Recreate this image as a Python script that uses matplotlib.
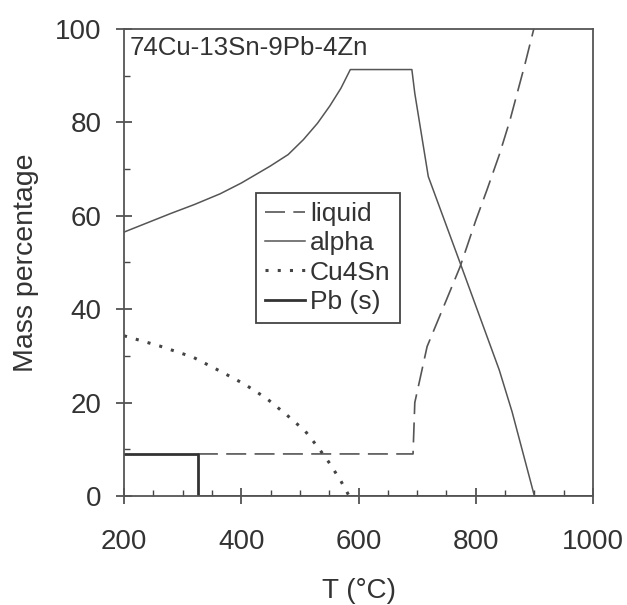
import matplotlib
matplotlib.use("Agg")
import matplotlib.pyplot as plt
from matplotlib.ticker import MultipleLocator

plt.rcParams['font.family'] = ['Liberation Sans', 'DejaVu Sans']

# Data
liquid_T = [326, 693, 696, 717, 750, 773, 785, 800, 819, 840, 858, 884, 899]
liquid_v = [9, 9, 20, 32, 42, 49, 53.4, 59, 65.5, 73, 80.3, 92.5, 100]

alpha_T = [200, 240, 280, 320, 364, 400, 449, 480, 506, 530, 551, 570, 586, 691, 696, 719, 773, 840, 862, 900, 1000]
alpha_v = [56.5, 58.5, 60.5, 62.4, 64.7, 67.0, 70.6, 73.1, 76.3, 79.8, 83.5, 87.3, 91.3, 91.3, 86.2, 68.4, 50, 27, 18, 0, 0]

cu4sn_T = [200, 261, 318, 369, 406, 443, 478, 509, 531, 549, 569, 584]
cu4sn_v = [34.3, 32.1, 29.7, 26.4, 23.9, 20.9, 17.3, 13.9, 10.4, 7.3, 3.4, 0]

pb_T = [200, 326, 326, 1000]
pb_v = [9, 9, 0, 0]

x_ticks = [200, 400, 600, 800, 1000]
y_ticks = [0, 20, 40, 60, 80, 100]

fig = plt.figure(figsize=(6.27, 6.05), dpi=100)
ax = fig.add_axes([0.1978, 0.1802, 0.748, 0.772])

lc = '#555555'
ax.plot(liquid_T, liquid_v, color=lc, lw=1.2, dashes=(12, 5), label='liquid')
ax.plot(alpha_T, alpha_v, color=lc, lw=1.1, label='alpha')
ax.plot(cu4sn_T, cu4sn_v, color='#444444', lw=2.2, linestyle=(0, (1, 3.0)), label='Cu4Sn')
ax.plot(pb_T, pb_v, color='#333333', lw=2.0, label='Pb (s)')

ax.set_xlim(200, 1000)
ax.set_ylim(0, 100)
ax.set_xticks(x_ticks)
ax.set_yticks(y_ticks)
ax.xaxis.set_minor_locator(MultipleLocator(50))
ax.yaxis.set_minor_locator(MultipleLocator(10))
ax.tick_params(which='major', direction='inout', length=12, width=1.2, color='#444444',
               labelsize=20, labelcolor='#333333', pad=10)
ax.tick_params(axis='x', which='major', pad=18)
ax.tick_params(which='minor', direction='in', length=4.5, width=1.0, color='#444444')
for s in ax.spines.values():
    s.set_color('#555555')
    s.set_linewidth(1.3)

ax.set_xlabel('T (°C)', fontsize=20, color='#333333', labelpad=16)
ax.set_ylabel('Mass percentage', fontsize=20.5, color='#333333', labelpad=12)

ax.text(0.012, 0.985, '74Cu-13Sn-9Pb-4Zn', transform=ax.transAxes, fontsize=18.6,
        color='#333333', va='top', ha='left')

leg = ax.legend(loc='upper left', bbox_to_anchor=(0.281, 0.649), borderaxespad=0,
                fontsize=19, frameon=True, fancybox=False, framealpha=1,
                handlelength=1.5, handletextpad=0.2, borderpad=0.35, labelspacing=0.2)
leg.get_frame().set_edgecolor('#444444')
leg.get_frame().set_linewidth(1.3)
for t in leg.get_texts():
    t.set_color('#333333')

fig.savefig('out.png', dpi=100, facecolor='white')
